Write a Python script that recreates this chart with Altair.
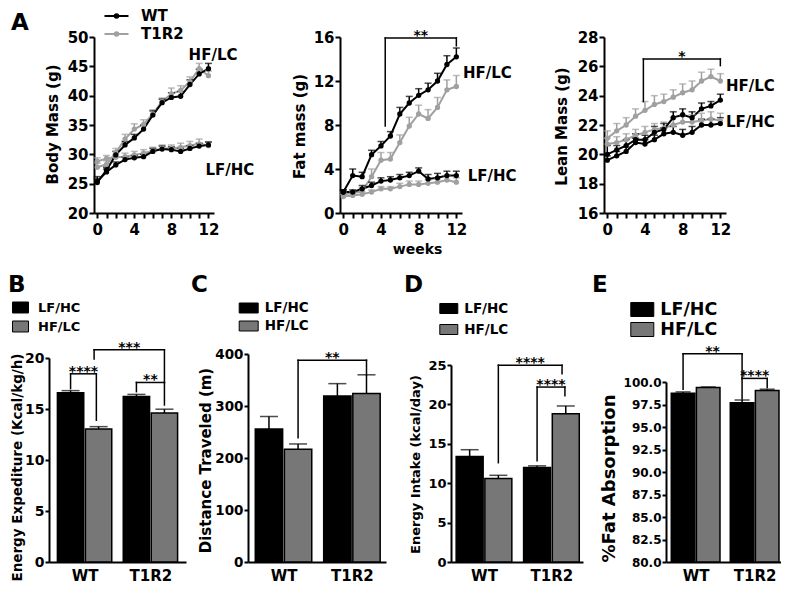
import altair as alt
import pandas as pd

FONT = "DejaVu Sans"
BLACK = "#000000"
GRAY_LINE = "#a0a0a0"
GRAY_BAR = "#777777"

WEEKS = list(range(13))
GENOTYPES = ["WT", "T1R2"]
DIETS = ["LF/HC", "HF/LC"]

# ---------------- Panel A: body mass (g)
BODY_WT_LF = [25.4, 27.0, 28.2, 29.1, 29.4, 29.6, 30.5, 30.9, 30.8, 30.5, 31.0, 31.4, 31.6]
BODY_WT_LF_SEM = [0.8, 0.5, 0.5, 0.4, 0.4, 0.4, 0.5, 0.5, 0.5, 0.5, 0.5, 0.5, 0.5]
BODY_WT_HF = [25.2, 27.3, 29.9, 31.6, 32.8, 34.3, 36.7, 38.8, 39.7, 39.9, 41.9, 43.7, 44.6]
BODY_WT_HF_SEM = [0.6, 0.5, 0.6, 0.6, 0.6, 0.7, 0.7, 0.6, 0.8, 0.8, 0.8, 0.8, 0.9]
BODY_KO_LF = [28.8, 29.3, 29.5, 29.6, 29.9, 30.2, 30.6, 31.0, 31.0, 31.2, 31.5, 31.8, 31.5]
BODY_KO_LF_SEM = [0.6, 0.5, 0.5, 0.6, 0.6, 0.6, 0.6, 0.6, 0.6, 0.7, 0.7, 0.8, 0.6]
BODY_KO_HF = [27.8, 28.3, 30.3, 32.6, 34.3, 35.1, 36.9, 39.0, 40.3, 40.9, 42.4, 44.6, 43.4]
BODY_KO_HF_SEM = [0.7, 0.6, 0.7, 0.8, 0.9, 0.8, 0.7, 0.6, 1.0, 0.8, 0.8, 0.9, 0.8]

# ---------------- Panel A: fat mass (g)
FAT_WT_LF = [1.9, 1.9, 2.2, 2.5, 2.9, 3.0, 3.2, 3.4, 3.8, 3.1, 3.2, 3.4, 3.4]
FAT_WT_LF_SEM = [0.2, 0.2, 0.3, 0.3, 0.3, 0.3, 0.3, 0.3, 0.3, 0.4, 0.4, 0.4, 0.4]
FAT_WT_HF = [1.9, 3.4, 3.3, 5.3, 6.1, 7.0, 9.0, 10.0, 10.7, 11.2, 12.0, 13.5, 14.2]
FAT_WT_HF_SEM = [0.2, 0.6, 0.4, 0.4, 0.4, 0.4, 0.6, 0.6, 0.6, 0.6, 0.7, 0.8, 0.8]
FAT_KO_LF = [1.5, 1.6, 1.7, 1.9, 2.2, 2.2, 2.4, 2.6, 2.6, 2.7, 2.8, 3.0, 2.8]
FAT_KO_LF_SEM = [0.2, 0.2, 0.2, 0.2, 0.2, 0.2, 0.3, 0.3, 0.3, 0.3, 0.3, 0.4, 0.4]
FAT_KO_HF = [1.7, 1.8, 2.0, 3.3, 4.8, 4.9, 6.4, 7.9, 9.0, 8.6, 9.6, 11.2, 11.5]
FAT_KO_HF_SEM = [0.2, 0.2, 0.3, 0.7, 0.7, 0.6, 0.7, 0.8, 0.8, 0.8, 0.9, 0.9, 1.0]

# ---------------- Panel A: lean mass (g)
LEAN_WT_LF = [19.6, 19.9, 20.2, 20.8, 20.7, 21.0, 21.4, 21.5, 21.3, 21.5, 22.0, 22.0, 22.1]
LEAN_WT_LF_SEM = [0.3, 0.3, 0.3, 0.3, 0.3, 0.3, 0.4, 0.4, 0.4, 0.4, 0.4, 0.4, 0.4]
LEAN_WT_HF = [20.0, 20.3, 20.6, 21.0, 21.0, 21.5, 21.7, 22.5, 22.7, 22.5, 23.1, 23.3, 23.7]
LEAN_WT_HF_SEM = [0.6, 0.3, 0.4, 0.4, 0.3, 0.4, 0.4, 0.4, 0.4, 0.4, 0.4, 0.3, 0.4]
LEAN_KO_LF = [20.7, 20.8, 21.0, 21.3, 21.5, 21.7, 21.8, 22.0, 22.2, 22.2, 22.3, 22.4, 22.3]
LEAN_KO_LF_SEM = [0.4, 0.4, 0.4, 0.4, 0.4, 0.4, 0.4, 0.5, 0.5, 0.5, 0.5, 0.5, 0.5]
LEAN_KO_HF = [21.1, 21.6, 22.0, 22.6, 23.0, 23.4, 23.6, 23.9, 24.2, 24.4, 25.0, 25.3, 25.0]
LEAN_KO_HF_SEM = [0.5, 0.5, 0.5, 0.5, 0.6, 0.6, 0.5, 0.5, 0.6, 0.6, 0.6, 0.5, 0.5]

BODY_LABELS = [("HF/LC", 9.86, 47.0), ("LF/HC", 11.68, 27.4)]
FAT_LABELS = [("HF/LC", 12.7, 12.77), ("LF/HC", 13.2, 3.33)]
LEAN_LABELS = [("HF/LC", 12.6, 24.67), ("LF/HC", 12.6, 22.2)]
# x-left, x-right, top, left-leg end, right-leg end, label
FAT_BRACKETS = [(4.45, 12.0, 15.9, 7.9, 15.2, "**")]
LEAN_BRACKETS = [(3.83, 12.0, 26.5, 23.6, 26.05, "*")]

# ---------------- Panels B-E (bars)
BAR_GENOTYPES = ["WT", "WT", "T1R2", "T1R2"]
BAR_DIETS = ["LF/HC", "HF/LC", "LF/HC", "HF/LC"]
EE_MEAN = [16.6, 13.05, 16.23, 14.6]
EE_SEM = [0.2, 0.22, 0.2, 0.38]
DIST_MEAN = [256, 217, 319, 324]
DIST_SEM = [24, 10, 24, 36]
INTAKE_MEAN = [13.4, 10.6, 12.0, 18.8]
INTAKE_SEM = [0.85, 0.4, 0.2, 1.0]
FATABS_MEAN = [98.75, 99.4, 97.7, 99.05]
FATABS_SEM = [0.15, 0.05, 0.3, 0.15]

EE_BRACKETS = [(0.0, 0.92, 18.45, 17.0, 13.9, "****"),
               (0.84, 3.35, 20.8, 19.9, 17.6, "***"),
               (2.35, 3.35, 17.6, 16.7, 15.4, "**")]
DIST_BRACKETS = [(1.0, 3.35, 388, 239, 360, "**")]
INTAKE_BRACKETS = [(1.0, 3.22, 24.97, 12.6, 23.9, "****"),
                   (2.35, 3.32, 22.2, 12.85, 21.1, "****")]
FATABS_BRACKETS = [(0.0, 2.35, 103.14, 99.2, 100.4, "**"),
                   (2.35, 3.35, 100.4, 98.1, 99.4, "****")]

# layout helpers (positions of bars in axis units)
POS = [0.0, 1.0, 2.35, 3.35]
HALF = 0.47
GROUP_CENTERS = [0.5, 2.85]
ROW1_H = 176
ROW2_H = 208


def letter_layer(letter, lx, ly):
    return alt.Chart(pd.DataFrame({"t": [letter]})).mark_text(
        font=FONT, fontWeight="bold", fontSize=23, color=BLACK, align="left", baseline="alphabetic"
    ).encode(x=alt.value(lx), y=alt.value(ly), text="t:N")


def bracket_layers(brackets, X, Y):
    df = pd.DataFrame(brackets, columns=["x1", "x2", "yt", "yl", "yr", "t"])
    b = alt.Chart(df)
    st = dict(color=BLACK, strokeWidth=1.5, strokeCap="square")
    h = b.mark_rule(**st).encode(x=X("x1"), x2="x2:Q", y=Y("yt"))
    l = b.mark_rule(**st).encode(x=X("x1"), y=Y("yt"), y2="yl:Q")
    r = b.mark_rule(**st).encode(x=X("x2"), y=Y("yt"), y2="yr:Q")
    s = b.transform_calculate(xm="(datum.x1 + datum.x2) / 2").mark_text(
        font=FONT, fontWeight="bold", fontSize=14, color=BLACK, baseline="alphabetic", align="center", dy=2
    ).encode(x=X("xm"), y=Y("yt"), text="t:N")
    return [h, l, r, s]


def line_panel(series, ydom, yticks, ytitle, tx, ty, width, labels, brackets,
               letter=None, legend=None, xtitle=None):
    rows = []
    for geno, diet, means, sems in series:
        for w, m, s in zip(WEEKS, means, sems):
            rows.append(dict(week=w, geno=geno, diet=diet, key=geno + diet, mean=m, top=m + s))
    df = pd.DataFrame(rows)
    xs = alt.Scale(domain=[-0.35, 12.6], nice=False, zero=False)
    ys = alt.Scale(domain=ydom, nice=False, zero=False)
    xkw = dict(values=WEEKS, labelExpr="datum.value % 4 == 0 ? datum.label : ''",
               labelFontSize=15, labelPadding=4, labelFlush=False, labelOverlap=False)
    if xtitle:
        xax = alt.Axis(title=xtitle, titleX=77, titleY=36, titleAlign="center", titleBaseline="middle",
                       titleFontSize=14, **xkw)
    else:
        xax = alt.Axis(title=None, **xkw)
    yax = alt.Axis(values=yticks, title=ytitle, titleX=tx, titleY=ty, titleAngle=270, titleAlign="center",
                   titleBaseline="middle", titleFontSize=15, labelFontSize=15, labelPadding=1,
                   labelOverlap=False)

    def X(f):
        return alt.X(f"{f}:Q", scale=xs, axis=xax)

    def Y(f):
        return alt.Y(f"{f}:Q", scale=ys, axis=yax)

    cscale = dict(domain=GENOTYPES, range=[BLACK, GRAY_LINE])
    base = alt.Chart(df)
    line = base.mark_line(strokeWidth=2).encode(
        x=X("week"), y=Y("mean"),
        color=alt.Color("geno:N", scale=alt.Scale(**cscale), legend=legend),
        detail="key:N")
    err = base.mark_rule(strokeWidth=1.5).encode(
        x=X("week"), y=Y("mean"), y2="top:Q",
        stroke=alt.Stroke("geno:N", scale=alt.Scale(**cscale), legend=None))
    cap = base.mark_tick(orient="horizontal", size=7, thickness=1.5).encode(
        x=X("week"), y=Y("top"),
        fill=alt.Fill("geno:N", scale=alt.Scale(**cscale), legend=None))
    pts = base.mark_circle(size=28, opacity=1).encode(
        x=X("week"), y=Y("mean"),
        fill=alt.Fill("geno:N", scale=alt.Scale(**cscale), legend=None))
    lab = alt.Chart(pd.DataFrame(labels, columns=["t", "x", "y"])).mark_text(
        font=FONT, fontWeight="bold", fontSize=15, color=BLACK, align="left", baseline="middle"
    ).encode(x=X("x"), y=Y("y"), text="t:N")
    layers = [line, err, cap, pts, lab]
    if brackets:
        layers += bracket_layers(brackets, X, Y)
    if letter:
        layers.append(letter_layer(*letter))
    return alt.layer(*layers).properties(width=width, height=ROW1_H)


def bar_legend(lx, ly, step, w, h, fs, lo, rp):
    a = w / step
    b = h / step
    path = f"M-{a:.3f},-{b:.3f}H{a:.3f}V{b:.3f}H-{a:.3f}Z"
    return alt.Legend(title=None, orient="none", legendX=lx, legendY=ly, symbolType=path,
                      symbolSize=step * step, symbolStrokeColor=BLACK, symbolStrokeWidth=1,
                      symbolOpacity=1, labelFont=FONT, labelFontSize=fs, labelFontWeight="bold",
                      labelColor=BLACK, labelOffset=lo, rowPadding=rp, padding=0)


def bar_panel(means, sems, ydom, yrange, yticks, yfmt, ylabfs, ytitle, tx, ty, tfs,
              xdom, width, brackets, letter, legend, capw):
    df = pd.DataFrame({"geno": BAR_GENOTYPES, "diet": BAR_DIETS, "mean": means, "sem": sems, "pos": POS})
    df["lo"] = df["pos"] - HALF
    df["hi"] = df["pos"] + HALF
    df["top"] = df["mean"] + df["sem"]
    xs = alt.Scale(domain=xdom, nice=False, zero=False)
    ys = alt.Scale(domain=ydom, range=yrange, nice=False, zero=False)
    xax = alt.Axis(values=GROUP_CENTERS, labelExpr="datum.value < 1.5 ? 'WT' : 'T1R2'", ticks=False,
                   title=None, labelFontSize=15, labelPadding=6, labelFlush=False)
    yax = alt.Axis(values=yticks, format=yfmt, title=ytitle, titleX=tx, titleY=ty, titleAngle=270,
                   titleAlign="center", titleBaseline="middle", titleFontSize=tfs,
                   labelFontSize=ylabfs, labelPadding=1, labelOverlap=False, tickSize=4)

    def X(f):
        return alt.X(f"{f}:Q", scale=xs, axis=xax)

    def Y(f):
        return alt.Y(f"{f}:Q", scale=ys, axis=yax)

    base = alt.Chart(df)
    bars = base.mark_bar(stroke=BLACK, strokeWidth=1.5).encode(
        x=X("lo"), x2="hi:Q", y=Y("mean"), y2=alt.datum(ydom[0]),
        fill=alt.Fill("diet:N", scale=alt.Scale(domain=DIETS, range=[BLACK, GRAY_BAR]), legend=legend))
    err = base.mark_rule(strokeWidth=1.5, color=BLACK).encode(x=X("pos"), y=Y("mean"), y2="top:Q")
    cap = base.mark_tick(orient="horizontal", size=capw, thickness=1.5, color=BLACK).encode(
        x=X("pos"), y=Y("top"))
    layers = [bars, err, cap] + bracket_layers(brackets, X, Y) + [letter_layer(*letter)]
    return alt.layer(*layers).properties(width=width, height=ROW2_H)


def spacer(w):
    return alt.Chart(pd.DataFrame({"t": [""]})).mark_text().encode(
        text="t:N", x=alt.value(0), y=alt.value(0)).properties(width=w, height=1)


A_LEGEND = alt.Legend(
    title=None, orient="none", legendX=15, legendY=-28.5,
    symbolType="M-2,0H2M0.3,0A0.3,0.3,0,1,1,-0.3,0A0.3,0.3,0,1,1,0.3,0",
    symbolSize=144, symbolStrokeWidth=2, labelFont=FONT, labelFontSize=15, labelFontWeight="bold",
    labelColor=BLACK, labelOffset=17, rowPadding=2, padding=0)

a1 = line_panel(
    [("T1R2", "LF/HC", BODY_KO_LF, BODY_KO_LF_SEM), ("T1R2", "HF/LC", BODY_KO_HF, BODY_KO_HF_SEM),
     ("WT", "LF/HC", BODY_WT_LF, BODY_WT_LF_SEM), ("WT", "HF/LC", BODY_WT_HF, BODY_WT_HF_SEM)],
    [20, 50], [20, 25, 30, 35, 40, 45, 50], "Body Mass (g)", -41.5, 87, 120, BODY_LABELS, None,
    letter=("A", -83, -7), legend=A_LEGEND)
a2 = line_panel(
    [("T1R2", "LF/HC", FAT_KO_LF, FAT_KO_LF_SEM), ("T1R2", "HF/LC", FAT_KO_HF, FAT_KO_HF_SEM),
     ("WT", "LF/HC", FAT_WT_LF, FAT_WT_LF_SEM), ("WT", "HF/LC", FAT_WT_HF, FAT_WT_HF_SEM)],
    [0, 16], [0, 4, 8, 12, 16], "Fat mass (g)", -41, 89, 122, FAT_LABELS, FAT_BRACKETS,
    legend=None, xtitle="weeks")
a3 = line_panel(
    [("T1R2", "LF/HC", LEAN_KO_LF, LEAN_KO_LF_SEM), ("T1R2", "HF/LC", LEAN_KO_HF, LEAN_KO_HF_SEM),
     ("WT", "LF/HC", LEAN_WT_LF, LEAN_WT_LF_SEM), ("WT", "HF/LC", LEAN_WT_HF, LEAN_WT_HF_SEM)],
    [16, 28], [16, 18, 20, 22, 24, 26, 28], "Lean Mass (g)", -43, 89, 122, LEAN_LABELS, LEAN_BRACKETS,
    legend=None)

pb = bar_panel(EE_MEAN, EE_SEM, [0, 20], [ROW2_H, 4], [0, 5, 10, 15, 20], "d", 14,
               "Energy Expediture (Kcal/kg/h)", -32, 113, 13.5, [-0.77, 4.12], 137, EE_BRACKETS,
               ("B", -41, -62), bar_legend(-38, -56, 18, 16, 11, 13, 8, 2), 18)
pc = bar_panel(DIST_MEAN, DIST_SEM, [0, 400], [ROW2_H, 0], [0, 100, 200, 300, 400], "d", 13.5,
               "Distance Traveled (m)", -43, 106, 15, [-0.72, 4.02], 138, DIST_BRACKETS,
               ("C", -57, -62), bar_legend(-9.3, -56, 19, 19, 10, 13.5, 6, 1), 18)
pd_ = bar_panel(INTAKE_MEAN, INTAKE_SEM, [0, 25], [ROW2_H, 11], [0, 5, 10, 15, 20, 25], "d", 13,
                "Energy Intake (kcal/day)", -36, 110, 13, [-0.65, 3.95], 132, INTAKE_BRACKETS,
                ("D", -47, -62), bar_legend(-12.7, -56, 20, 18, 10, 13.5, 5, 3), 18)
pe = bar_panel(FATABS_MEAN, FATABS_SEM, [80, 100], [ROW2_H, 28],
               [80, 82.5, 85, 87.5, 90, 92.5, 95, 97.5, 100], ".1f", 12,
               "%Fat Absorption", -57, 124, 18, [-0.68, 3.9], 115, FATABS_BRACKETS,
               ("E", -74, -62), bar_legend(-33.7, -54.5, 19, 23, 14, 17.5, 8, 0), 15)

RES = dict(color="independent", fill="independent", stroke="independent")
row1 = alt.hconcat(spacer(45), a1, spacer(126), a2, spacer(142), a3, spacing=0,
                   bounds="flush").resolve_scale(**RES)
row2 = alt.hconcat(pb, spacer(62), pc, spacer(65), pd_, spacer(83), pe, spacing=0,
                   bounds="flush").resolve_scale(**RES)

chart = alt.vconcat(row1, row2, spacing=18).resolve_scale(**RES).properties(padding=0)
chart = chart.configure_axis(
    domainColor=BLACK, domainWidth=2, tickColor=BLACK, tickWidth=2, tickSize=5,
    labelFont=FONT, labelFontWeight="bold", labelColor=BLACK,
    titleFont=FONT, titleFontWeight="bold", titleColor=BLACK, grid=False
).configure_view(strokeWidth=0)

chart.save("out.html", embed_options={"renderer": "svg", "actions": False})
